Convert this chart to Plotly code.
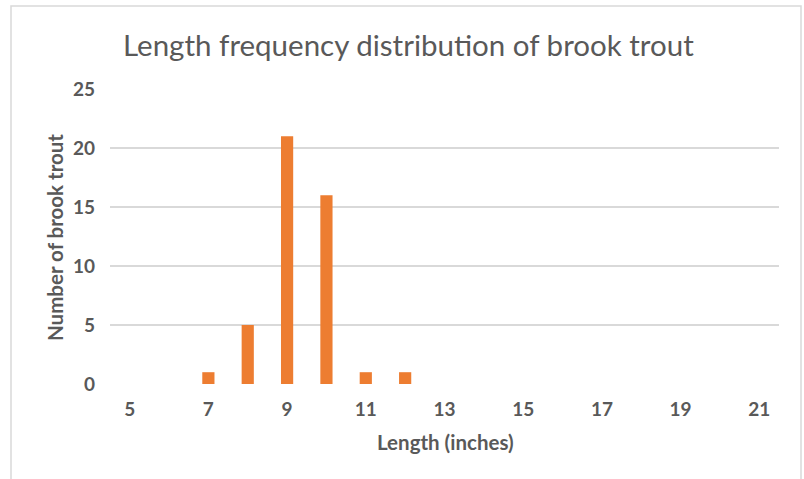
import plotly.graph_objects as go

lengths = [5, 6, 7, 8, 9, 10, 11, 12, 13, 14, 15, 16, 17, 18, 19, 20, 21]
counts = [0, 0, 1, 5, 21, 16, 1, 1, 0, 0, 0, 0, 0, 0, 0, 0, 0]
x_ticks = [5, 7, 9, 11, 13, 15, 17, 19, 21]
y_ticks = [0, 5, 10, 15, 20, 25]

title_text = "Length frequency distribution of brook trout"
x_title = "Length (inches)"
y_title = "Number of brook trout"

W, H = 804, 479
L, R, T, B = 110, 779, 89, 384

fig = go.Figure(go.Bar(x=lengths, y=counts, width=0.31, marker_color="#ED7D31",
                       marker_line_width=0))

def px_x(p):
    return (p - L) / (R - L)

def px_y(p):
    return (B - p) / (B - T)

font_fam = "Lato, 'Open Sans', sans-serif"
grey = "#595959"

fig.update_layout(
    width=W, height=H,
    margin=dict(l=L, r=W - R, t=T, b=H - B, pad=0),
    paper_bgcolor="white", plot_bgcolor="white",
    showlegend=False,
    font=dict(family=font_fam, color=grey),
    xaxis=dict(range=[4.5, 21.5], tickvals=x_ticks, ticktext=[str(v) for v in x_ticks],
               showgrid=False, zeroline=False, showline=False, ticks="",
               tickfont=dict(size=19, color=grey, family=font_fam, weight="bold"),
               ticklabelstandoff=12),
    yaxis=dict(range=[0, 25], tickvals=y_ticks, showgrid=True, gridcolor="#d9d9d9",
               gridwidth=1.5, zeroline=False, showline=False, ticks="",
               tickfont=dict(size=19, color=grey, family=font_fam, weight="bold"),
               ticklabelstandoff=14),
    shapes=[dict(type="rect", xref="paper", yref="paper",
                 x0=px_x(11), x1=px_x(801), y0=px_y(490), y1=px_y(6),
                 line=dict(color="#d9d9d9", width=1.5), layer="below")],
    annotations=[
        dict(text=title_text, xref="paper", yref="paper", x=px_x(408), y=px_y(45),
             showarrow=False, xanchor="center", yanchor="middle",
             font=dict(size=29.5, color=grey, family=font_fam)),
        dict(text=x_title, xref="paper", yref="paper", x=px_x(445), y=px_y(442),
             showarrow=False, xanchor="center", yanchor="middle",
             font=dict(size=20.5, color=grey, family=font_fam, weight="bold")),
        dict(text=y_title, xref="paper", yref="paper", x=px_x(55), y=px_y(237),
             showarrow=False, xanchor="center", yanchor="middle", textangle=-90,
             font=dict(size=20.5, color=grey, family=font_fam, weight="bold")),
    ],
)

fig.write_html("out.html", config={"displayModeBar": False},
               post_script="document.body.style.margin='0';")
